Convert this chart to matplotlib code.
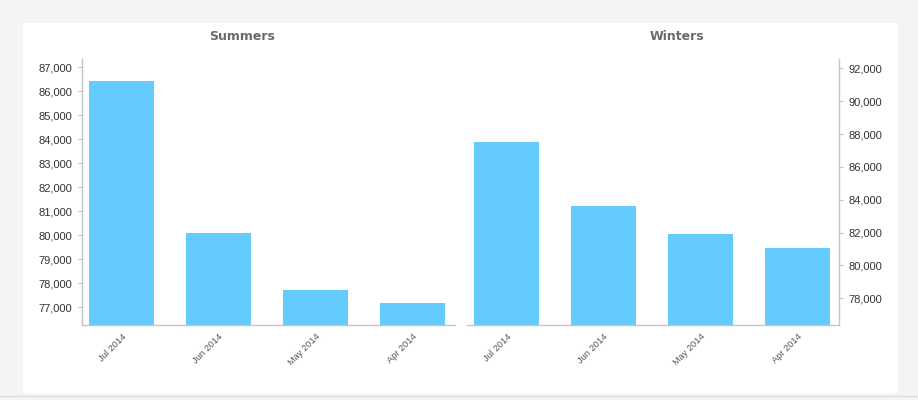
import matplotlib
matplotlib.use("Agg")
import matplotlib.pyplot as plt
from matplotlib.patches import FancyBboxPatch
from matplotlib.lines import Line2D
from matplotlib.ticker import FuncFormatter

categories = ["Jul 2014", "Jun 2014", "May 2014", "Apr 2014"]
summers = [86430, 80110, 77720, 77190]
winters = [87510, 83620, 81915, 81065]
summers_ticks = [77000, 78000, 79000, 80000, 81000, 82000, 83000, 84000, 85000, 86000, 87000]
winters_ticks = [78000, 80000, 82000, 84000, 86000, 88000, 90000, 92000]

W, H = 918, 400
fig = plt.figure(figsize=(W / 100, H / 100), dpi=100)
fig.patch.set_facecolor("#f4f4f4")

# white panel
panel = FancyBboxPatch((23 / W, 1 - 393.5 / H), (898 - 23) / W, (393.5 - 23) / H,
                       boxstyle="round,pad=0,rounding_size=0.006",
                       transform=fig.transFigure, facecolor="white",
                       edgecolor="none", zorder=-10)
fig.patches.append(panel)
fig.lines.append(Line2D([0, 1], [1 - 396 / H, 1 - 396 / H], transform=fig.transFigure,
                        color="#dddddd", lw=1, zorder=-10))

bar_color = "#64cbff"
spine_color = "#c4c4c4"
fmt = FuncFormatter(lambda v, p: f"{int(v):,}")

def ax_rect(x0, x1, ytop, ybot):
    return [x0 / W, 1 - ybot / H, (x1 - x0) / W, (ybot - ytop) / H]

def style(ax, side, data, ticks, ylim, xlim, title, title_x):
    x = range(len(categories))
    ax.bar(x, data, width=0.67, color=bar_color, zorder=2)
    ax.set_xlim(*xlim)
    ax.set_ylim(*ylim)
    ax.set_facecolor("none")
    for s in ["top", "left", "right", "bottom"]:
        ax.spines[s].set_visible(False)
    ax.spines["bottom"].set_visible(True)
    ax.spines[side].set_visible(True)
    for s in ["bottom", side]:
        ax.spines[s].set_color(spine_color)
        ax.spines[s].set_linewidth(1.0)
    ax.set_yticks(ticks)
    ax.yaxis.set_major_formatter(fmt)
    if side == "right":
        ax.yaxis.tick_right()
    ax.tick_params(axis="y", length=3, width=0.8, color=spine_color,
                   labelsize=8, labelcolor="#333333", pad=4)
    ax.set_xticks(list(x))
    ax.set_xticklabels(categories, rotation=45, ha="right", va="top",
                       rotation_mode="anchor", fontsize=6.7, color="#555555")
    ax.tick_params(axis="x", length=0, pad=5)
    for lab in ax.get_yticklabels():
        lab.set_family(["Liberation Sans", "DejaVu Sans"])
    for lab in ax.get_xticklabels():
        lab.set_family(["Liberation Sans", "DejaVu Sans"])
    fig.text(title_x / W, 1 - 37 / H, title, ha="center", va="center",
             fontsize=9, fontweight="bold", color="#6a6a6a",
             family=["DejaVu Sans"])

ax1 = fig.add_axes(ax_rect(82, 455, 59, 325))
style(ax1, "left", summers, summers_ticks, (76262, 87346), (-0.407, 3.438),
      "Summers", 242)

ax2 = fig.add_axes(ax_rect(467, 839, 59, 325))
style(ax2, "right", winters, winters_ticks, (76376, 92566), (-0.407, 3.428),
      "Winters", 677)

fig.savefig("out.png", dpi=100, facecolor=fig.get_facecolor())
